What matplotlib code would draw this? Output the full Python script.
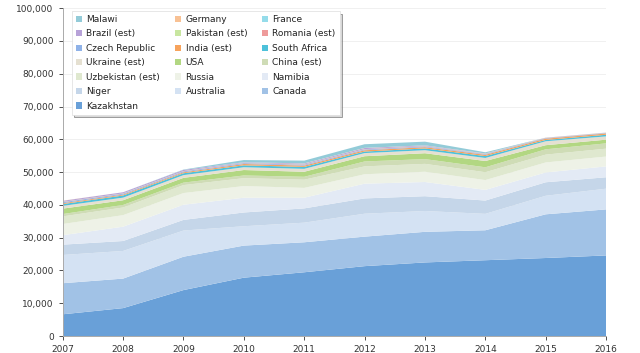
import numpy as np
import matplotlib
matplotlib.use("Agg")
import matplotlib.pyplot as plt
from matplotlib.patches import Patch
from matplotlib.ticker import FuncFormatter

years = [2007, 2008, 2009, 2010, 2011, 2012, 2013, 2014, 2015, 2016]

# tonnes U, bottom of the stack first
kazakhstan = [6637, 8521, 14020, 17803, 19451, 21317, 22451, 23127, 23800, 24586]
canada = [9476, 9000, 10173, 9783, 9145, 8999, 9331, 9134, 13325, 14039]
australia = [8611, 8430, 7982, 5900, 5983, 6991, 6350, 5001, 5654, 6315]
niger = [3153, 3032, 3243, 4198, 4351, 4667, 4518, 4057, 4116, 3479]
namibia = [2879, 4366, 4626, 4496, 3258, 4495, 4323, 3255, 2993, 3315]
russia = [3413, 3521, 3564, 3562, 2993, 2872, 3135, 2990, 3055, 3004]
uzbekistan = [2320, 2338, 2429, 2400, 2500, 2400, 2400, 2400, 2385, 2404]
china = [712, 769, 750, 827, 885, 1500, 1450, 1500, 1616, 1616]
usa = [1654, 1430, 1453, 1660, 1537, 1596, 1792, 1919, 1256, 1125]
ukraine = [846, 800, 840, 850, 890, 960, 922, 926, 1200, 1005]
south_africa = [539, 655, 563, 583, 582, 465, 531, 573, 393, 490]
india = [270, 271, 290, 400, 400, 385, 385, 385, 385, 385]
czech = [306, 263, 258, 254, 229, 228, 215, 193, 155, 138]
romania = [77, 77, 75, 77, 77, 90, 77, 77, 77, 50]
pakistan = [45, 45, 50, 45, 45, 45, 45, 45, 45, 45]
brazil = [299, 330, 345, 148, 265, 326, 192, 55, 40, 44]
france = [4, 5, 8, 7, 6, 3, 5, 3, 2, 0]
germany = [41, 0, 0, 8, 51, 50, 27, 33, 0, 0]
malawi = [0, 0, 104, 670, 846, 1101, 1132, 369, 0, 0]

names = ["Kazakhstan", "Canada", "Australia", "Niger", "Namibia", "Russia",
         "Uzbekistan (est)", "China (est)", "USA", "Ukraine (est)",
         "South Africa", "India (est)", "Czech Republic", "Romania (est)",
         "Pakistan (est)", "Brazil (est)", "France", "Germany", "Malawi"]
series = [kazakhstan, canada, australia, niger, namibia, russia, uzbekistan,
          china, usa, ukraine, south_africa, india, czech, romania, pakistan,
          brazil, france, germany, malawi]
colors = ["#69a0d8", "#a1c2e6", "#d4e2f3", "#c5d6e9", "#e3eaf5", "#eef2e7",
          "#dfe8cf", "#cfdcb6", "#b2d782", "#e5e0d1", "#4dc1da", "#f7a35c",
          "#8fb2e8", "#ee9b9b", "#c8e6a0", "#b7a2d8", "#95dcea", "#f8c194",
          "#93cbd8"]

fig = plt.figure(figsize=(6.4, 3.53), dpi=100)
ax = fig.add_axes([0.098, 0.048, 0.849, 0.929])

ax.stackplot(years, *series, colors=colors, linewidth=0)

ax.set_xlim(2007, 2016)
ax.set_ylim(0, 100000)
ax.set_xticks(years)
ax.set_yticks(np.arange(0, 100001, 10000))
ax.yaxis.set_major_formatter(FuncFormatter(lambda v, p: "{:,}".format(int(v))))
ax.tick_params(labelsize=6.5, colors="#333333", length=3, width=0.6)
ax.grid(axis="y", color="#eeeeee", linewidth=0.6)
ax.set_axisbelow(True)
for side in ["top", "right"]:
    ax.spines[side].set_visible(False)
for side in ["left", "bottom"]:
    ax.spines[side].set_color("#aaaaaa")
    ax.spines[side].set_linewidth(0.7)

#legend is row-major, 3 columns, top of stack first
legendOrder = list(range(len(names)))[::-1]
rows = [legendOrder[i:i + 3] for i in range(0, len(legendOrder), 3)]
colMajor = []
for c in range(3):
    for r in rows:
        if c < len(r):
            colMajor.append(r[c])
handles = [Patch(facecolor=colors[i], edgecolor="none") for i in colMajor]
labels = [names[i] for i in colMajor]
leg = ax.legend(handles, labels, ncol=3, loc="upper left",
                bbox_to_anchor=(0.008, 1.005), fontsize=6.5,
                frameon=True, fancybox=False,
                shadow={"ox": 2, "oy": -2, "facecolor": "#c8c8c8", "alpha": 0.7},
                handlelength=0.7, handleheight=0.7, handletextpad=0.5,
                columnspacing=1.6, labelspacing=0.6, borderpad=0.45)
leg.get_frame().set_edgecolor("#dddddd")
leg.get_frame().set_linewidth(0.5)
for t in leg.get_texts():
    t.set_color("#222222")

plt.savefig("out.png", dpi=100)
